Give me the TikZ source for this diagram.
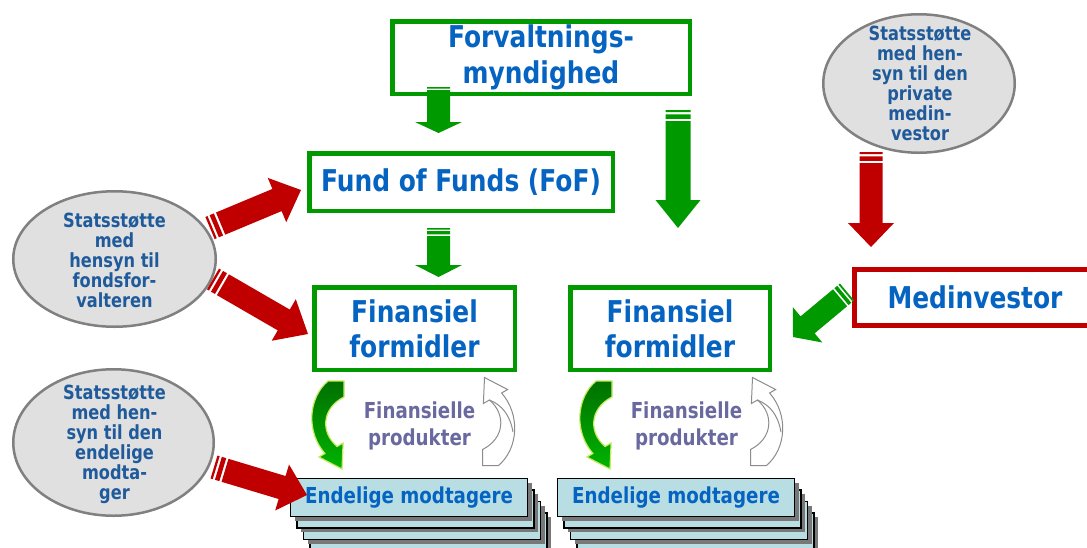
\documentclass[tikz,border=0pt]{standalone}
\usepackage{fontspec}
\newfontfamily\tah{DejaVu Sans}[FakeStretch=0.83]
\usetikzlibrary{calc,shapes.geometric,shadows}

\definecolor{boxgreen}{RGB}{0,153,0}
\definecolor{arrowred}{RGB}{192,0,0}
\definecolor{titleblue}{RGB}{5,99,193}
\definecolor{bubbleblue}{RGB}{31,90,155}
\definecolor{bubblefill}{RGB}{224,224,224}
\definecolor{bubbleedge}{RGB}{128,128,128}
\definecolor{prodtext}{RGB}{105,105,160}
\definecolor{stackfill}{RGB}{184,222,228}
\definecolor{shadowgray}{RGB}{120,120,120}
\definecolor{curldark}{RGB}{0,112,0}
\definecolor{curlbright}{RGB}{0,180,0}
\definecolor{curledge}{RGB}{195,235,90}
\definecolor{curlgray}{RGB}{140,140,140}

% striped block arrow: colour, tail, tip, shaft half width, head half width, head length, stripe unit (pt)
\newcommand\stripedarrow[7]{%
  \pgfmathsetmacro\sarA{#7}%
  \pgfmathsetmacro\sarB{2*#7}%
  \pgfmathsetmacro\sarC{4*#7}%
  \pgfmathsetmacro\sarD{5*#7}%
  \fill[#1]
    ($(#2)!#4pt!90:(#3)$) -- ($(#2)!#4pt!-90:(#3)$) --
    ($(#2)!\sarA pt!(#3)!#4pt!-90:(#3)$) -- ($(#2)!\sarA pt!(#3)!#4pt!90:(#3)$) -- cycle
    ($(#2)!\sarB pt!(#3)!#4pt!90:(#3)$) -- ($(#2)!\sarB pt!(#3)!#4pt!-90:(#3)$) --
    ($(#2)!\sarC pt!(#3)!#4pt!-90:(#3)$) -- ($(#2)!\sarC pt!(#3)!#4pt!90:(#3)$) -- cycle
    ($(#2)!\sarD pt!(#3)!#4pt!90:(#3)$) --
    ($(#3)!#6pt!(#2)!#4pt!-90:(#2)$) --
    ($(#3)!#6pt!(#2)!#5pt!-90:(#2)$) --
    (#3) --
    ($(#3)!#6pt!(#2)!#5pt!90:(#2)$) --
    ($(#3)!#6pt!(#2)!#4pt!90:(#2)$) --
    ($(#2)!\sarD pt!(#3)!#4pt!-90:(#3)$) -- cycle;
}

\tikzset{
  greenbox/.style={draw=boxgreen, line width=4.5pt, fill=white, text=titleblue,
    align=center, inner sep=0pt, font=\tah\bfseries\fontsize{30}{36}\selectfont},
  redbox/.style={greenbox, draw=arrowred},
  bubble/.style={ellipse, draw=bubbleedge, fill=bubblefill, line width=2.5pt, inner sep=0pt},
  bubbletext/.style={text=bubbleblue, align=center, inner sep=0pt,
    font=\tah\bfseries\fontsize{19.5}{20}\selectfont},
  prodlabel/.style={text=prodtext, align=center, inner sep=0pt,
    font=\tah\bfseries\fontsize{22}{27}\selectfont},
  stackbox/.style={draw=black, line width=1.3pt, fill=stackfill, minimum width=237pt,
    minimum height=38pt, inner sep=0pt, text=titleblue,
    font=\tah\bfseries\fontsize{22}{26}\selectfont,
    drop shadow={shadow xshift=4pt, shadow yshift=-4pt, fill=shadowgray, opacity=1}},
  greencurl/.pic={
    \path[top color=curldark, bottom color=curlbright, draw=curledge, line width=1.2pt]
      (-1,-44.5) -- (15,-44.5) -- (15,-28.5)
      .. controls (-7,-17.5) and (-9,6.5) .. (8.1,21)
      -- (14.1,17.5) -- (13,43.5) -- (-10.1,31.5) -- (-4.1,28)
      .. controls (-23,6.5) and (-21,-27.5) .. (-1,-44.5) -- cycle;
  },
  graycurl/.pic={
    \draw[fill=white, draw=curlgray, line width=1pt]
      (-1,-44.5) -- (15,-44.5) -- (15,-28.5)
      .. controls (-7,-17.5) and (-9,6.5) .. (8.1,21)
      -- (14.1,17.5) -- (13,43.5) -- (-10.1,31.5) -- (-4.1,28)
      .. controls (-23,6.5) and (-21,-27.5) .. (-1,-44.5) -- cycle;
    \draw[curlgray, line width=1pt] (8.1,21) .. controls (-4.5,16) and (-12.5,6) .. (-15.5,-11);
  }
}

\begin{document}
\begin{tikzpicture}[x=1pt, y=-1pt]
\useasboundingbox (0,0) rectangle (1087,547);
\fill[white] (0,0) rectangle (1087,547);

% state aid bubbles
\node[bubble, minimum width=191.5pt, minimum height=138.5pt] (bubR) at (919,83.5) {};
\node[bubbletext] (bubRt) at (920,83) {Statsstøtte\\med hen-\\syn til den\\private\\medin-\\vestor};
\node[bubble, minimum width=202.5pt, minimum height=135.5pt] (bubA) at (114.5,259) {};
\node[bubbletext] (bubAt) at (114.5,260) {Statsstøtte\\med\\hensyn til\\fondsfor-\\valteren};
\node[bubble, minimum width=200.5pt, minimum height=146.5pt] (bubB) at (113.5,442.5) {};
\node[bubbletext] (bubBt) at (114.5,444) {Statsstøtte\\med hen-\\syn til den\\endelige\\modta-\\ger};

% main boxes
\node[greenbox, minimum width=297.5pt, minimum height=72.5pt] (forv) at (541,57.5) {Forvaltnings-\\myndighed};
\node[greenbox, minimum width=303.5pt, minimum height=57.5pt] (fof) at (461,182) {Fund of Funds (FoF)};
\node[greenbox, minimum width=200.5pt, minimum height=82.5pt, font=\tah\bfseries\fontsize{30}{35}\selectfont] (finL) at (414.5,328.5) {Finansiel\\formidler};
\node[greenbox, minimum width=199.5pt, minimum height=82.5pt, font=\tah\bfseries\fontsize{30}{35}\selectfont] (finR) at (670,328.5) {Finansiel\\formidler};
\node[redbox, minimum width=241pt, minimum height=56pt] (medinv) at (975,297.5) {Medinvestor};

% stacks of final recipients
\node[stackbox] (stLd) at (428.5,532) {};
\node[stackbox] (stLc) at (422,520.5) {};
\node[stackbox] (stLb) at (415.5,509) {};
\node[stackbox] (stL) at (409,497.5) {Endelige modtagere};
\node[stackbox] (stRd) at (695.5,532) {};
\node[stackbox] (stRc) at (689,520.5) {};
\node[stackbox] (stRb) at (682.5,509) {};
\node[stackbox] (stR) at (676,497.5) {Endelige modtagere};

% financial products
\node[prodlabel] (prodL) at (419.5,426) {Finansielle\\produkter};
\node[prodlabel] (prodR) at (686.5,426) {Finansielle\\produkter};
\pic at (329,425.5) {greencurl};
\pic[rotate=180] at (497.5,421) {graycurl};
\pic at (597,425.5) {greencurl};
\pic[rotate=180] at (765.5,421) {graycurl};

% arrow ends
\coordinate (aTail) at (438.5,87);   \coordinate (aTip) at (438.5,133);
\coordinate (bTail) at (678,110);    \coordinate (bTip) at (678,228);
\coordinate (cTail) at (438.5,228);  \coordinate (cTip) at (438.5,277);
\coordinate (dTail) at (847,292);    \coordinate (dTip) at (793,337);
\coordinate (eTail) at (871,152);    \coordinate (eTip) at (871,247);
\coordinate (fTail) at (210,228);    \coordinate (fTip) at (301,190);
\coordinate (gTail) at (213,279);    \coordinate (gTip) at (308,334);
\coordinate (hTail) at (214,467);    \coordinate (hTip) at (307,495);

\stripedarrow{boxgreen}{aTail}{aTip}{11.5}{23.5}{11}{1.6}
\stripedarrow{boxgreen}{bTail}{bTip}{12.5}{22.5}{28}{2.2}
\stripedarrow{boxgreen}{cTail}{cTip}{11.5}{23.5}{12}{1.6}
\stripedarrow{boxgreen}{dTail}{dTip}{11}{23}{19}{1.8}
\stripedarrow{arrowred}{eTail}{eTip}{11.5}{23}{24}{2.2}
\stripedarrow{arrowred}{fTail}{fTip}{12}{24}{26}{2.3}
\stripedarrow{arrowred}{gTail}{gTip}{12}{24}{28}{2.3}
\stripedarrow{arrowred}{hTail}{hTip}{12}{24}{26}{2.3}
\end{tikzpicture}
\end{document}
